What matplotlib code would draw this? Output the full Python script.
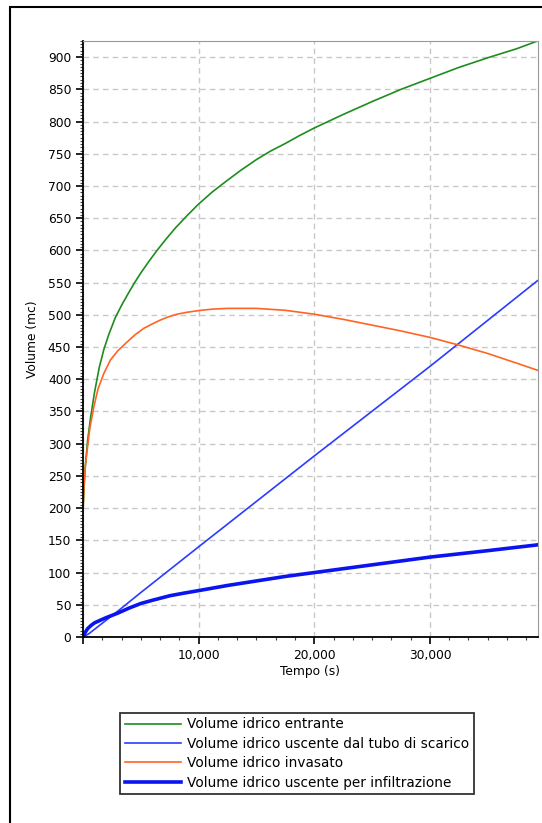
import matplotlib
matplotlib.use("Agg")
import matplotlib.pyplot as plt
from matplotlib.ticker import MultipleLocator, FuncFormatter
from matplotlib.patches import Rectangle

# Data
t_entrante = [0, 100, 200, 400, 650, 1000, 1400, 1800, 2200, 2800, 3400, 4100, 4500, 5000, 5700,
              6400, 7200, 8000, 9000, 10000, 11200, 12500, 13700, 15000, 16200, 17500, 18700,
              20000, 22500, 25000, 27500, 30000, 32500, 35000, 37500, 39300]
v_entrante = [195, 235, 265, 305, 340, 380, 418, 446, 468, 496, 517, 539, 551, 565, 583,
              600, 618, 635, 654, 672, 691, 709, 725, 741, 754, 766, 778,
              790, 811, 831, 850, 867, 884, 899, 913, 925]

t_scarico = [0, 500, 1000, 2000, 3000, 5000, 10000, 20000, 30000, 39300]
v_scarico = [0, 5, 12, 26, 40, 69, 140, 281, 420, 553]

t_invasato = [0, 100, 200, 360, 600, 935, 1300, 1800, 2375, 3000, 3820, 4500, 5250, 6000, 6700,
              7400, 8130, 9000, 10150, 11300, 12500, 13800, 15000, 17500, 20000, 22500, 25000,
              27500, 30000, 32500, 35000, 37500, 39300]
v_invasato = [195, 240, 265, 290, 325, 357, 385, 409, 430, 444, 458, 469, 479, 486, 492,
              497, 501, 504, 507, 509, 510, 510, 510, 507, 501, 493, 484,
              475, 465, 453, 440, 425, 414]

t_infiltr = [0, 150, 400, 700, 1000, 1500, 2000, 3000, 4000, 5000, 6000, 7500, 8700, 10000,
             12500, 15000, 17500, 20000, 25000, 30000, 35000, 39300]
v_infiltr = [0, 6, 13, 18, 22, 26, 30, 37, 45, 52, 57, 64, 68, 72,
             80, 87, 94, 100, 112, 124, 134, 143]

labels = ["Volume idrico entrante",
          "Volume idrico uscente dal tubo di scarico",
          "Volume idrico invasato",
          "Volume idrico uscente per infiltrazione"]

W, H = 542, 823
fig = plt.figure(figsize=(W / 100, H / 100), dpi=100)
fig.patch.set_facecolor("white")

# outer frame (cropped on right and bottom)
fig.patches.append(Rectangle((10 / W, -0.1), 1.2, 1.1 - 7 / H, transform=fig.transFigure,
                             fill=False, edgecolor="black", linewidth=1.5))

ax = fig.add_axes([83 / W, 1 - 637 / H, (537.5 - 83) / W, (637 - 41) / H])

l1, = ax.plot(t_entrante, v_entrante, color="#1e8c1e", lw=1.2)
l2, = ax.plot(t_scarico, v_scarico, color="#2b3bff", lw=1.2)
l3, = ax.plot(t_invasato, v_invasato, color="#ff6422", lw=1.2)
l4, = ax.plot(t_infiltr, v_infiltr, color="#0a14f0", lw=2.6)

ax.set_xlim(0, 39300)
ax.set_ylim(0, 925)
ax.yaxis.set_major_locator(MultipleLocator(50))
ax.yaxis.set_minor_locator(MultipleLocator(5))
ax.xaxis.set_major_locator(MultipleLocator(10000))
ax.xaxis.set_minor_locator(MultipleLocator(10000 / 6))
ax.xaxis.set_major_formatter(FuncFormatter(lambda v, p: "" if v == 0 else f"{int(v):,}"))

ax.grid(True, which="major", linestyle=(0, (4, 3)), color="#c8c8c8", lw=1)
ax.set_axisbelow(True)
for s in ["top", "right"]:
    ax.spines[s].set_color("#999999")
for s in ["left", "bottom"]:
    ax.spines[s].set_color("black")
    ax.spines[s].set_linewidth(1.3)

ax.tick_params(axis="both", which="major", direction="out", length=5, width=1.2, labelsize=8.8, colors="black")
ax.tick_params(axis="both", which="minor", direction="out", length=2.5, width=0.8, colors="#444444")
ax.tick_params(axis="x", which="major", pad=4)

ax.set_xlabel("Tempo (s)", fontsize=8.8, labelpad=2)
ax.set_ylabel("Volume (mc)", fontsize=8.8, labelpad=6)

leg = fig.legend([l1, l2, l3, l4], labels, loc="upper left",
                 bbox_to_anchor=(120 / W, 1 - 712.5 / H), fontsize=9.8,
                 frameon=True, fancybox=False, shadow=False, borderaxespad=0,
                 handlelength=4.1, handletextpad=0.5, labelspacing=0.4, borderpad=0.35)
leg.get_frame().set_edgecolor("black")
leg.get_frame().set_linewidth(1.3)

fig.savefig("out.png", dpi=100)
